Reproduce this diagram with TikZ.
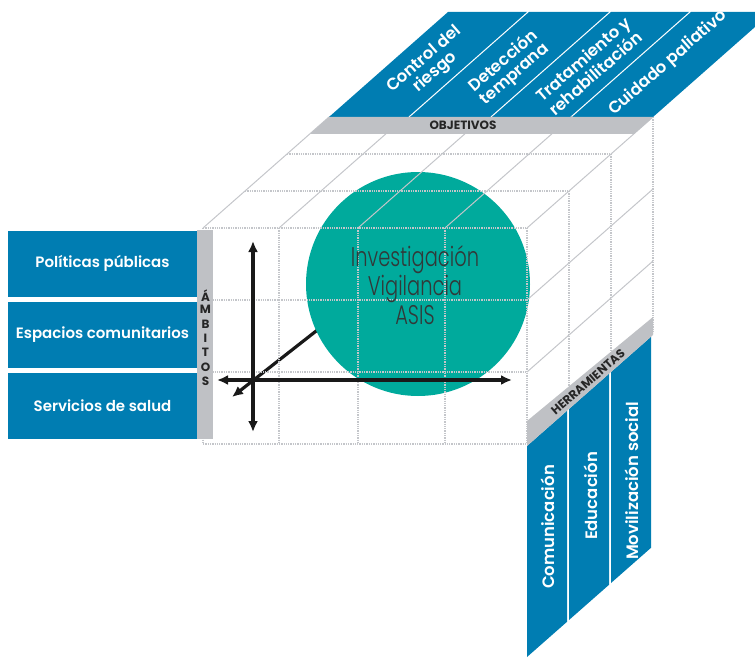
\documentclass[tikz,border=0pt]{standalone}
\usepackage{fontspec}
\newfontfamily\boxfont{Poppins SemiBold}
\newfontfamily\barfont{Poppins Bold}
\newfontfamily\thinfont{Poppins Light}[FakeStretch=0.72]
\usetikzlibrary{arrows.meta}
\definecolor{cubeblue}{RGB}{0,125,178}
\definecolor{bargray}{RGB}{191,193,197}
\definecolor{gridgray}{RGB}{196,198,202}
\definecolor{ballteal}{RGB}{0,170,156}
\definecolor{inkgray}{RGB}{50,56,56}

\begin{document}
\begin{tikzpicture}[x=1pt,y=-1pt]
    \tikzset{boxtext/.style = {text=white, align=center,
        font=\boxfont\fontsize{15}{16}\selectfont}}
    \tikzset{striptext/.style = {boxtext, font=\boxfont\fontsize{16.5}{17}\selectfont}}
    \tikzset{leftbox/.style = {boxtext, fill=cubeblue, minimum width=189pt,
        minimum height=66pt, inner sep=0pt}}
    \tikzset{bartext/.style = {text=black!85, inner sep=0pt,
        font=\barfont\fontsize{12}{12}\selectfont}}
    \tikzset{gridline/.style = {gridgray, line width=1.3pt, densely dotted}}
    \tikzset{gridslant/.style = {gridgray, line width=1pt}}
    \tikzset{axis/.style = {<->, > = {Latex[length=11pt,width=10pt]},
        line width=3.2pt, black!90}}
    \clip (0,0) rectangle (755,658);

    % diagonal axis (behind the ball)
    \coordinate (diagtip) at (232,397);
    \coordinate (diagend) at (334,317);
    \draw[axis, ->] (diagend) -- (diagtip);

    % ball
    \node[circle, fill=ballteal, minimum size=224pt, inner sep=0pt] (ball) at (418,284) {};

    % front face
    \foreach \x in {203,279,358,445,527} \draw[gridline] (\x,228) -- (\x,444);
    \foreach \y in {228,300,372,444} \draw[gridline] (203,\y) -- (527,\y);
    % top face
    \foreach \x in {203,279,358,445,527} \draw[gridslant] (\x,228) -- ++(126,-111);
    \foreach \k in {1,2,3} \draw[gridline] (203+42*\k,228-37*\k) -- (527+42*\k,228-37*\k);
    % right face
    \foreach \k in {1,2,3} \draw[gridline] (527+42*\k,228-37*\k) -- ++(0,216);
    \foreach \y in {300,372,444} \draw[gridslant] (527,\y) -- ++(126,-111);

    % objetivos
    \foreach \a/\b in {329/408, 410/490, 492/570, 572/653}
        \fill[cubeblue] (\a,117) -- (\b,117) -- ++(119,-105) -- (\a+119,12) -- cycle;
    \fill[bargray] (329,117) -- (653,117) -- (634,134) -- (310,134) -- cycle;
    \node[bartext] (objetivos) at (463,125.5) {OBJETIVOS};
    \node[striptext, rotate=41] (control) at (430,66) {Control del\\riesgo};
    \node[striptext, rotate=41] (deteccion) at (509,68) {Detección\\temprana};
    \node[striptext, rotate=41] (tratamiento) at (589,66) {Tratamiento y\\rehabilitación};
    \node[striptext, rotate=41] (cuidado) at (668,63) {Cuidado paliativo};

    % herramientas
    \foreach \i in {0,1,2}
        \fill[cubeblue] (527+42*\i,446-37*\i) -- ++(40,-35.2) -- ++(0,211) -- ++(-40,35.2) -- cycle;
    \fill[bargray] (527,446) -- (653,335) -- (653,317) -- (527,421) -- cycle;
    \node[bartext, rotate=41] (herramientas) at (588,382) {HERRAMIENTAS};
    \node[striptext, rotate=90] (comunicacion) at (548,527) {Comunicación};
    \node[striptext, rotate=90] (educacion) at (591,496) {Educación};
    \node[striptext, rotate=90] (movilizacion) at (632,481) {Movilización social};

    % ambitos
    \node[leftbox] (politicas) at (102.5,263.5) {Políticas públicas};
    \node[leftbox] (espacios) at (102.5,335) {Espacios comunitarios};
    \node[leftbox] (servicios) at (102.5,406) {Servicios de salud};
    \fill[bargray] (197,230) rectangle (213,439);
    \foreach \l [count=\i] in {Á,M,B,I,T,O,S}
        \node[bartext] (amb\i) at (205.5,281+14.3*\i) {\l};

    % axes
    \coordinate (vtop) at (253,241);
    \coordinate (vbot) at (253,432);
    \coordinate (hleft) at (217,380);
    \coordinate (hright) at (512,380);
    \draw[axis] (vtop) -- (vbot);
    \draw[axis] (hleft) -- (hright);

    % ball text
    \node[text=inkgray, align=center, font=\thinfont\fontsize{27}{29}\selectfont]
        (asis) at (415,285) {Investigación\\Vigilancia\\ASIS};
\end{tikzpicture}
\end{document}
